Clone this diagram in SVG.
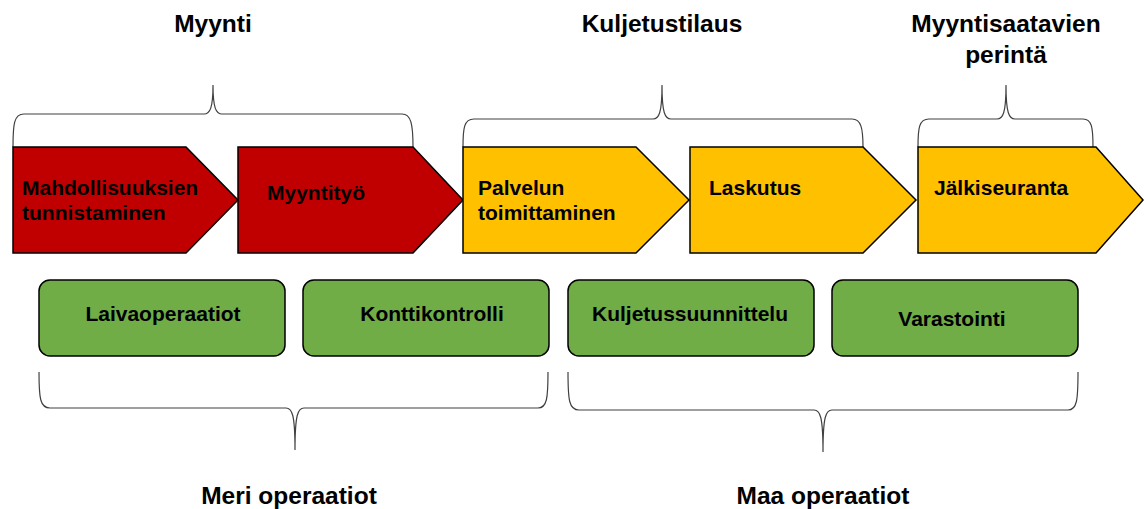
<svg xmlns="http://www.w3.org/2000/svg" width="1144" height="509" viewBox="0 0 1144 509">
  <style>
    .title { font-family: "Liberation Sans", Arial, sans-serif; font-weight: bold; font-size: 24.5px; fill: #000; }
    .lbl { font-family: "Liberation Sans", Arial, sans-serif; font-weight: bold; font-size: 21px; fill: #000; }
    .red { fill: #C00000; stroke: #000; stroke-width: 1.5; stroke-linejoin: miter; }
    .yel { fill: #FFC000; stroke: #000; stroke-width: 1.5; stroke-linejoin: miter; }
    .grn { fill: #70AD47; stroke: #000; stroke-width: 1.5; }
    .brace { fill: none; stroke: #404040; stroke-width: 1.2; }
  </style>

  <!-- section titles -->
  <text class="title" x="213" y="32" text-anchor="middle">Myynti</text>
  <text class="title" x="662" y="32" text-anchor="middle">Kuljetustilaus</text>
  <text class="title" x="1006" y="32" text-anchor="middle">Myyntisaatavien</text>
  <text class="title" x="1006" y="63" text-anchor="middle">perintä</text>
  <text class="title" x="289" y="504" text-anchor="middle">Meri operaatiot</text>
  <text class="title" x="823" y="504" text-anchor="middle">Maa operaatiot</text>

  <!-- curly braces grouping the steps -->
  <g id="connectors">
    <path class="brace" d="M13,147 C13,124 14,114 24,114 L204,114 C210,114 213,108 213,85 C213,108 216,114 222,114 L402,114 C411,114 413,124 413,147"/>
    <path class="brace" d="M463,147 C463,128 464,119 474,119 L653,119 C659,119 662,113 662,85 C662,113 665,119 671,119 L852,119 C861,119 863,128 863,147"/>
    <path class="brace" d="M918,147 C918,128 919,119 929,119 L997,119 C1003,119 1006,113 1006,85 C1006,113 1009,119 1015,119 L1083,119 C1092,119 1093,128 1093,147"/>
    <path class="brace" d="M39,372 C39,398 40,408 50,408 L286,408 C292,408 295,414 295,450 C295,414 298,408 304,408 L538,408 C547,408 548,398 548,372"/>
    <path class="brace" d="M568,372 C568,400 569,410 579,410 L814,410 C820,410 823,416 823,452 C823,416 826,410 832,410 L1068,410 C1077,410 1078,400 1078,372"/>
  </g>

  <!-- process chevrons -->
  <g id="step-mahdollisuuksien">
    <path class="red" d="M13,147 L186,147 L238,200 L186,253 L13,253 Z"/>
    <text class="lbl" x="22" y="195">Mahdollisuuksien</text>
    <text class="lbl" x="22" y="220">tunnistaminen</text>
  </g>
  <g id="step-myyntityo">
    <path class="red" d="M238,147 L413,147 L463,200 L413,253 L238,253 Z"/>
    <text class="lbl" x="267" y="200">Myyntityö</text>
  </g>
  <g id="step-palvelun">
    <path class="yel" d="M463,147 L636,147 L689,200 L636,253 L463,253 Z"/>
    <text class="lbl" x="478" y="195">Palvelun</text>
    <text class="lbl" x="478" y="220">toimittaminen</text>
  </g>
  <g id="step-laskutus">
    <path class="yel" d="M690,147 L863,147 L916,200 L863,253 L690,253 Z"/>
    <text class="lbl" x="709" y="195">Laskutus</text>
  </g>
  <g id="step-jalkiseuranta">
    <path class="yel" d="M918,147 L1096,147 L1143,200 L1096,253 L918,253 Z"/>
    <text class="lbl" x="934" y="195">Jälkiseuranta</text>
  </g>

  <!-- operation boxes -->
  <g id="op-laivaoperaatiot">
    <rect class="grn" x="39" y="280" width="246" height="76" rx="11"/>
    <text class="lbl" x="163" y="321" text-anchor="middle">Laivaoperaatiot</text>
  </g>
  <g id="op-konttikontrolli">
    <rect class="grn" x="303" y="280" width="246" height="76" rx="11"/>
    <text class="lbl" x="432" y="321" text-anchor="middle">Konttikontrolli</text>
  </g>
  <g id="op-kuljetussuunnittelu">
    <rect class="grn" x="568" y="280" width="246" height="76" rx="11"/>
    <text class="lbl" x="690" y="321" text-anchor="middle">Kuljetussuunnittelu</text>
  </g>
  <g id="op-varastointi">
    <rect class="grn" x="832" y="280" width="246" height="76" rx="11"/>
    <text class="lbl" x="952" y="326" text-anchor="middle">Varastointi</text>
  </g>
</svg>
